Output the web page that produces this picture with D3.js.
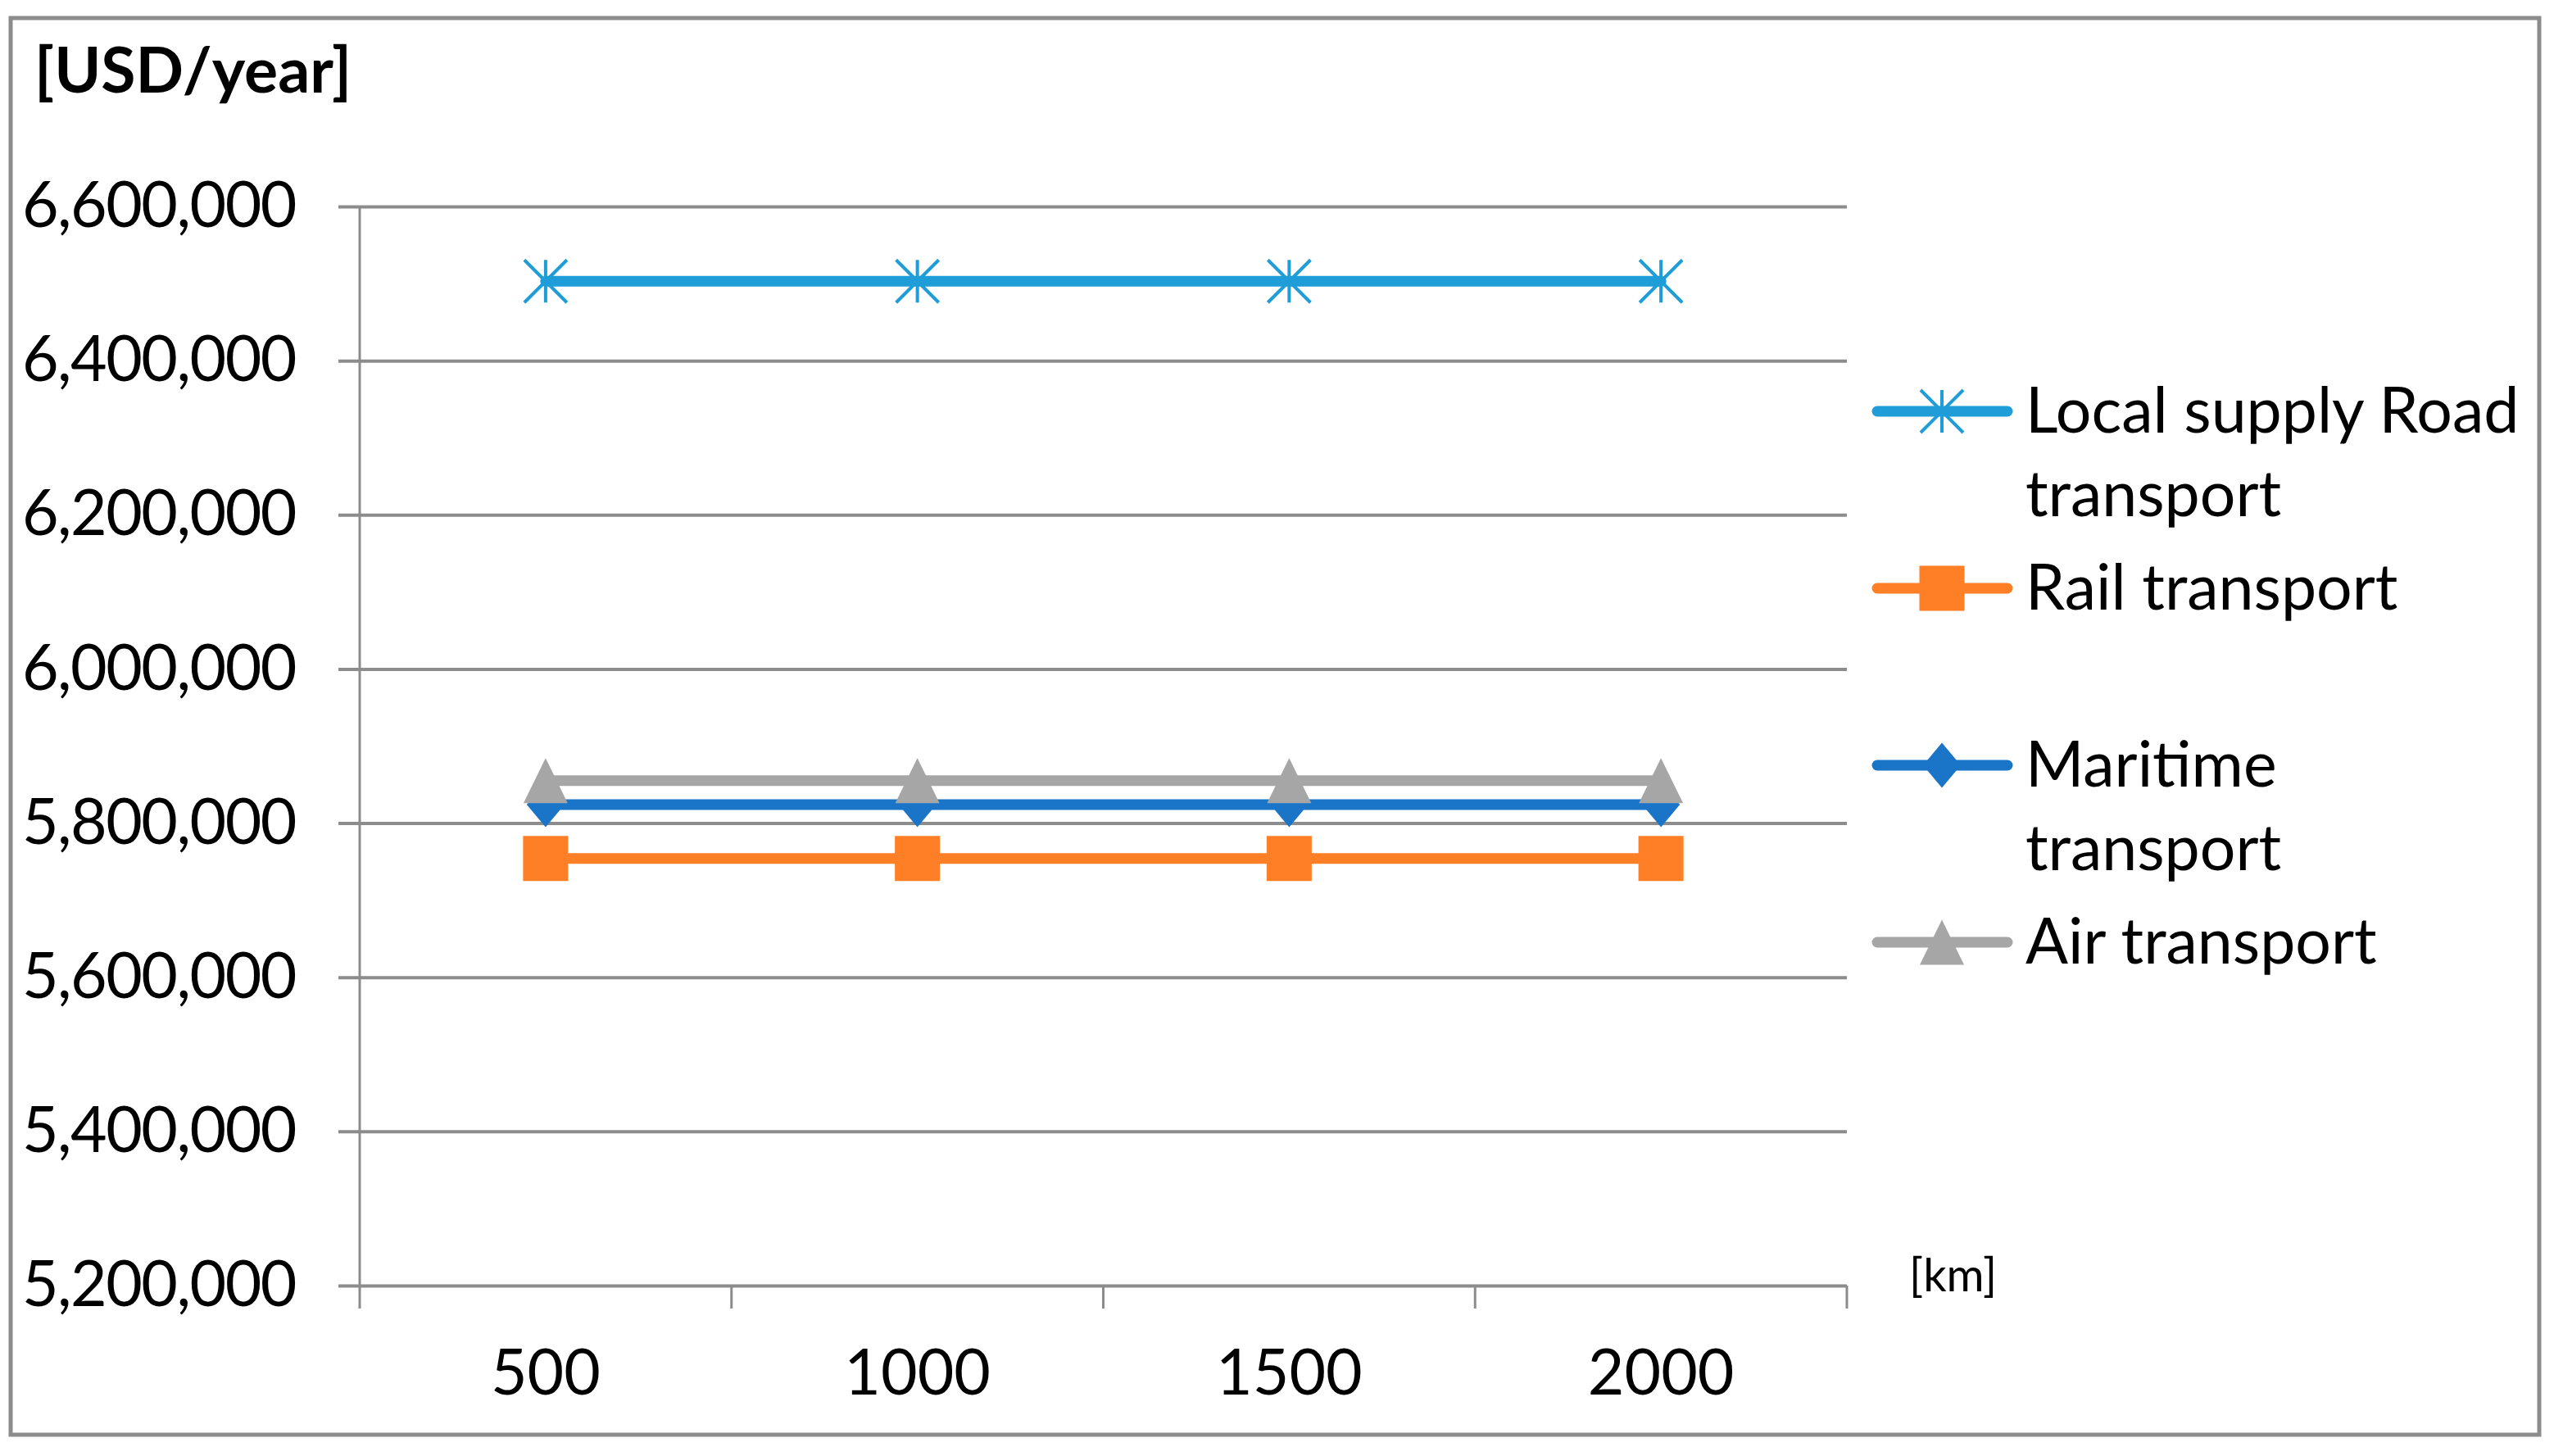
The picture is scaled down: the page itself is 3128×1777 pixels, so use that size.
<!DOCTYPE html>
<html>
<head>
<meta charset="utf-8">
<script src="https://cdn.jsdelivr.net/npm/d3@7"></script>
<style>
  body { margin: 0; background: #fff; }
  text { font-family: Lato, "Open Sans", sans-serif; fill: #000; }
</style>
</head>
<body>
<div id="chart"></div>
<script>
// data
const distances = ['500', '1000', '1500', '2000']
const yTicks = [5200000, 5400000, 5600000, 5800000, 6000000, 6200000, 6400000, 6600000]
const seriesNames = ['Local supply Road\ntransport', 'Rail transport', 'Maritime\ntransport', 'Air transport']
const localSupply = [6503000, 6503000, 6503000, 6503000]
const rail = [5754000, 5754000, 5754000, 5754000]
const maritime = [5824000, 5824000, 5824000, 5824000]
const air = [5855000, 5855000, 5855000, 5855000]

const series = [
  {name: seriesNames[0], values: localSupply, color: '#1e9dd8', marker: 'star'},
  {name: seriesNames[1], values: rail, color: '#ff7f27', marker: 'square'},
  {name: seriesNames[2], values: maritime, color: '#1a75c9', marker: 'diamond'},
  {name: seriesNames[3], values: air, color: '#a6a6a6', marker: 'triangle'}
]

const W = 3128, H = 1777
const grey = '#8c8c8c'
const fs = 77

const svg = d3.select('#chart')
  .append('svg')
    .attr('width', W)
    .attr('height', H)

// outer frame
svg.append('rect')
  .attr('x', 13).attr('y', 22)
  .attr('width', 3086).attr('height', 1729)
  .attr('fill', '#fff')
  .attr('stroke', grey)
  .attr('stroke-width', 5)

const x = d3.scaleBand()
  .domain(distances)
  .range([439, 2254])
  .padding(0)

const y = d3.scaleLinear()
  .domain([5200000, 6600000])
  .range([1569, 252])

// gridlines (y axis with wide ticks)
const leftAxis = d3.axisLeft(y)
  .tickValues(yTicks)
  .tickSize(-(2254 - 413))
  .tickFormat(d3.format(','))

const gy = svg.append('g')
  .attr('transform', 'translate(413,0)')
  .call(leftAxis)
gy.select('.domain').remove()
gy.selectAll('.tick line')
  .attr('stroke', grey)
  .attr('stroke-width', 4)
gy.selectAll('.tick text')
  .attr('x', -52)
  .attr('dy', '0.32em')
  .style('font-size', fs + 'px')
  .style('letter-spacing', '-1.5px')
  .style('font-family', 'Lato, sans-serif')
  .attr('fill', '#000')

// vertical axis line
svg.append('line')
  .attr('x1', x.range()[0]).attr('x2', x.range()[0])
  .attr('y1', y(6600000)).attr('y2', y(5200000) + 28)
  .attr('stroke', grey)
  .attr('stroke-width', 3)

// category boundary ticks
const bounds = distances.map(d => x(d)).concat([x.range()[1]])
svg.append('g')
  .selectAll('line')
  .data(bounds.slice(1))
  .enter()
  .append('line')
    .attr('x1', d => d).attr('x2', d => d)
    .attr('y1', y(5200000)).attr('y2', y(5200000) + 28)
    .attr('stroke', grey)
    .attr('stroke-width', 3)

// x labels
const bottomAxis = d3.axisBottom(x).tickSize(0).tickPadding(0)
const gx = svg.append('g')
  .attr('transform', `translate(0, ${y(5200000)})`)
  .call(bottomAxis)
gx.select('.domain').remove()
gx.selectAll('.tick text')
  .attr('y', 133)
  .attr('dy', 0)
  .style('font-size', fs + 'px')
  .style('font-family', 'Lato, sans-serif')
  .attr('fill', '#000')

// markers
function markerPath(type) {
  if (type === 'square') return 'M-27.5,-27.5H27.5V27.5H-27.5Z'
  if (type === 'diamond') return 'M0,-27.5L23,0L0,27.5L-23,0Z'
  if (type === 'triangle') return 'M0,-27.5L27,27.5L-27,27.5Z'
  return 'M0,-26V26M-26,-26L26,26M-26,26L26,-26'
}
function drawMarker(g, type, color) {
  g.append('path')
    .attr('d', markerPath(type))
    .attr('fill', type === 'star' ? 'none' : color)
    .attr('stroke', color)
    .attr('stroke-width', type === 'star' ? 4 : 0)
}

const line = d3.line()
  .x((d, i) => x(distances[i]) + x.bandwidth() / 2)
  .y(d => y(d))

series.forEach(s => {
  const g = svg.append('g')
  g.append('path')
    .datum(s.values)
    .attr('d', line)
    .attr('fill', 'none')
    .attr('stroke', s.color)
    .attr('stroke-width', 13)
    .attr('stroke-linecap', 'round')
  s.values.forEach((v, i) => {
    const m = g.append('g')
      .attr('transform', `translate(${x(distances[i]) + x.bandwidth() / 2},${y(v)})`)
    drawMarker(m, s.marker, s.color)
  })
})

// legend
const legend = svg.append('g')
series.forEach((s, i) => {
  const ly = 502 + i * 216
  const g = legend.append('g').attr('transform', `translate(0,${ly})`)
  g.append('line')
    .attr('x1', 2291).attr('x2', 2450)
    .attr('stroke', s.color)
    .attr('stroke-width', 13)
    .attr('stroke-linecap', 'round')
  const m = g.append('g').attr('transform', 'translate(2370,0)')
  drawMarker(m, s.marker, s.color)
  const t = g.append('text')
    .attr('x', 2472)
    .attr('y', 26)
    .style('font-size', fs + 'px')
  s.name.split('\n').forEach((ln, j) => {
    t.append('tspan')
      .attr('x', 2472)
      .attr('dy', j === 0 ? 0 : 102)
      .text(ln)
  })
})

// unit labels
svg.append('text')
  .attr('x', 42).attr('y', 113)
  .style('font-size', '77px')
  .style('font-weight', 'bold')
  .text('[USD/year]')

svg.append('text')
  .attr('x', 2330).attr('y', 1576)
  .style('font-size', '56px')
  .text('[km]')
</script>
</body>
</html>
